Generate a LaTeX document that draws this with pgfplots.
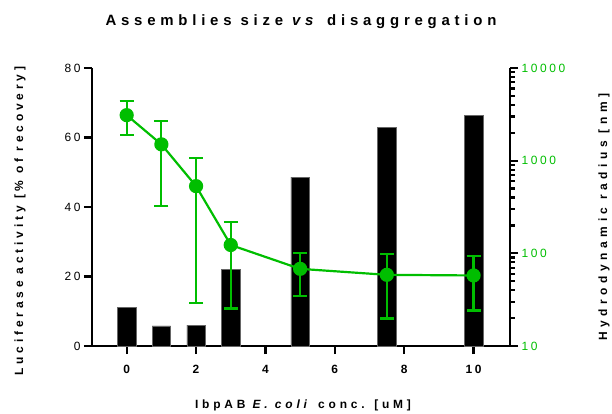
\documentclass[border=0pt]{standalone}
\usepackage{fontspec}
\setmainfont{Liberation Sans}
\newfontfamily\spaced[LetterSpace=32]{Liberation Sans}
\newfontfamily\spacedwide[LetterSpace=38]{Liberation Sans}
\newfontfamily\tickfont[LetterSpace=22]{Liberation Sans}
\usepackage{pgfplots}
\pgfplotsset{compat=1.18}
\usetikzlibrary{calc}
\definecolor{lgreen}{RGB}{0,190,0}

% luciferase activity (bars, left axis)
\pgfplotstableread{
x y
0 11.2
1 5.8
2 6.0
3 22.1
5 48.6
7.5 62.9
10 66.3
}\bars

% hydrodynamic radius (line, right log axis), asymmetric errors
\pgfplotstableread{
x y ep em
0 3100 1300 1220
1 1500 1200 1174
2 531 544 502
3 123 96 97.6
5 68 32.7 33.1
7.5 58.6 38.9 38.8
10 57.7 35.6 33.5
}\radius

\pgfplotsset{
  common/.style={
    scale only axis,
    width=418bp, height=278bp,
    xmin=-1, xmax=11.05,
    tick align=outside,
    axis line style={line width=2.4pt, black},
    major tick length=8bp,
    minor tick length=4.5bp,
    every tick/.style={black, line width=2.2pt},
    /pgf/number format/assume math mode=true,
    clip=false,
  },
}

\begin{document}
\begin{tikzpicture}
\begin{axis}[
  common,
  ymin=0, ymax=80,
  axis x line*=bottom,
  axis y line*=left,
  xtick={0,2,4,6,8,10},
  ytick={0,20,40,60,80},
  x tick label style={font=\tickfont\bfseries\fontsize{12}{14}\selectfont, yshift=-8bp},
  y tick label style={font=\tickfont\fontsize{12}{14}\selectfont},
]
  \addplot[ybar, bar width=0.53, fill=black, draw=black!60, bar shift=0pt] table[x=x, y=y] {\bars};
  \node[font=\spaced\bfseries\fontsize{15}{17}\selectfont] at ($(rel axis cs:0.5,1)+(0bp,46bp)$) {Assemblies size \textit{vs} disaggregation};
  \node[font=\spaced\bfseries\fontsize{12}{14}\selectfont] at ($(rel axis cs:0.5,0)+(2bp,-59bp)$) {IbpAB \textit{E. coli} conc. [uM]};
  \node[font=\spaced\bfseries\fontsize{12}{14}\selectfont, rotate=90] at ($(rel axis cs:0,0.5)+(-72bp,-14bp)$) {Luciferase activity [\% of recovery]};
  \node[font=\spacedwide\bfseries\fontsize{12}{14}\selectfont, rotate=90] at ($(rel axis cs:1,0.5)+(94bp,-10bp)$) {Hydrodynamic radius [nm]};
\end{axis}
\begin{axis}[
  common,
  ymode=log, ymin=10, ymax=10000,
  axis x line=none,
  axis y line*=right,
  ytick={10,100,1000,10000},
  log ticks with fixed point,
  /pgf/number format/1000 sep={},
  y tick label style={font=\tickfont\fontsize{12}{14}\selectfont, text=lgreen},
]
  \addplot[lgreen, line width=2.2pt, mark=*, mark size=6bp,
    error bars/.cd, y dir=both, y explicit,
    error bar style={line width=2.2pt, lgreen},
    error mark options={rotate=90, mark size=7bp, line width=2.2pt, lgreen}]
    table[x=x, y=y, y error plus=ep, y error minus=em] {\radius};
\end{axis}
\pgfresetboundingbox
\path[use as bounding box] (-92bp,-68bp) rectangle (520bp,346bp);
\end{tikzpicture}
\end{document}
